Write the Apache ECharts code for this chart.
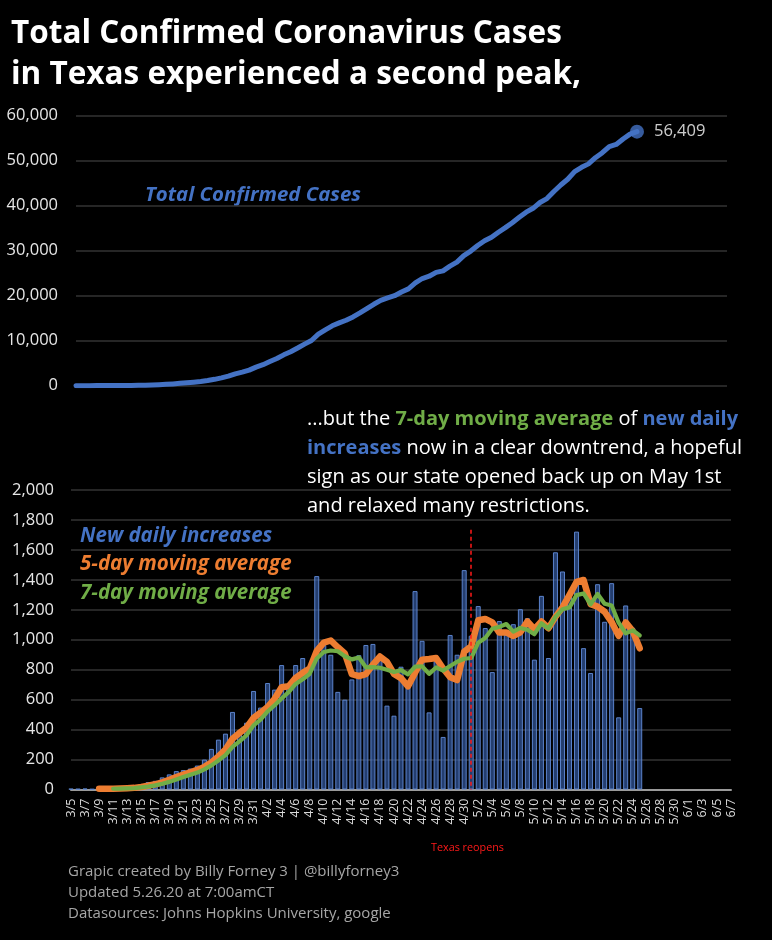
<!DOCTYPE html>
<html><head><meta charset="utf-8">
<script src="https://cdn.jsdelivr.net/npm/echarts@6/dist/echarts.min.js"></script>
<style>html,body{margin:0;padding:0;background:#000;}#c{width:772px;height:940px;}</style>
</head><body><div id="c"></div>
<script>
// Category labels (3/5 .. 6/7)
const dates = [
'3/5','3/6','3/7','3/8','3/9','3/10','3/11','3/12','3/13','3/14','3/15','3/16','3/17','3/18','3/19','3/20','3/21','3/22','3/23','3/24','3/25','3/26','3/27','3/28','3/29','3/30','3/31',
'4/1','4/2','4/3','4/4','4/5','4/6','4/7','4/8','4/9','4/10','4/11','4/12','4/13','4/14','4/15','4/16','4/17','4/18','4/19','4/20','4/21','4/22','4/23','4/24','4/25','4/26','4/27','4/28','4/29','4/30',
'5/1','5/2','5/3','5/4','5/5','5/6','5/7','5/8','5/9','5/10','5/11','5/12','5/13','5/14','5/15','5/16','5/17','5/18','5/19','5/20','5/21','5/22','5/23','5/24','5/25','5/26','5/27','5/28','5/29','5/30','5/31',
'6/1','6/2','6/3','6/4','6/5','6/6','6/7'];

// New daily increases (3/5 .. 5/25)
const newCases = [5,4,6,3,5,5,8,10,14,18,35,50,58,81,101,123,130,140,160,200,271,333,373,518,395,446,658,
547,711,667,831,689,831,878,807,1425,965,900,652,600,735,897,965,972,870,560,493,820,700,1325,993,515,857,351,1032,900,1465,
1027,1225,1078,784,1125,1033,1104,1204,1144,867,1293,878,1584,1456,1289,1722,944,778,1371,1120,1378,482,1229,1080,544];

// 5-day moving average
const ma5 = [null,null,null,null,5,5,5,6,8,11,17,25,35,48,65,83,99,115,131,151,180,221,267,339,378,413,478,
513,551,606,683,689,746,779,807,926,981,995,950,908,770,757,770,834,888,853,772,743,689,780,866,871,878,808,750,731,921,
955,1130,1139,1116,1048,1049,1025,1050,1122,1070,1122,1077,1153,1216,1300,1386,1399,1238,1221,1187,1118,1026,1116,1058,943];

// 7-day moving average
const ma7 = [null,null,null,null,null,null,5,6,7,9,14,20,28,38,51,67,83,98,113,134,161,194,230,285,321,362,428,
467,521,563,608,650,705,736,773,875,918,928,923,890,869,882,816,817,813,800,785,797,769,820,823,772,815,794,825,853,873,
878,980,1011,1073,1086,1105,1054,1079,1067,1037,1110,1075,1153,1204,1216,1298,1309,1236,1306,1240,1229,1114,1043,1063,1029];

// Total confirmed cases
const totalCases = [5,9,15,18,23,28,36,46,60,77,112,162,219,300,400,522,651,790,949,1147,1416,1747,2117,2631,3023,3465,4118,
4661,5367,6029,6854,7537,8362,9233,10034,11448,12406,13299,13946,14542,15271,16161,17119,18084,18947,19503,19992,20806,21500,22815,23801,24312,25162,25511,26535,27428,28882,
29901,31117,32187,32965,34081,35106,36202,37397,38532,39392,40676,41547,43119,44564,45843,47552,48489,49261,50621,51733,53100,53579,54798,55870,56409];

const reopenDate = '5/1';

const chart = echarts.init(document.getElementById('c'), null, {renderer:'canvas'});
const FONT = "'Open Sans', 'Noto Sans', sans-serif";
const fmt = v => Number(v).toLocaleString('en-US');
const lastIdx = totalCases.length - 1;

chart.setOption({
  backgroundColor: '#000',
  animation: false,
  grid: [
    {left: 76, right: 45, top: 115.5, height: 270.2},
    {left: 71, right: 41, top: 490, height: 299.5}
  ],
  xAxis: [
    {gridIndex: 0, type: 'category', data: dates, boundaryGap: false,
     axisLine: {show: false}, axisTick: {show: false}, axisLabel: {show: false}, splitLine: {show: false}},
    {gridIndex: 1, type: 'category', data: dates, boundaryGap: false,
     axisLine: {show: true, lineStyle: {color: '#9a9a9a', width: 2}},
     axisTick: {show: false},
     axisLabel: {interval: 1, rotate: 90, color: '#d9d9d9', fontFamily: FONT, fontSize: 12.5, margin: 9},
     splitLine: {show: false}}
  ],
  yAxis: [
    {gridIndex: 0, type: 'value', min: 0, max: 60000, interval: 10000,
     axisLine: {show: false}, axisTick: {show: false},
     axisLabel: {formatter: fmt, color: '#e6e6e6', fontFamily: FONT, fontSize: 16.5, margin: 18},
     splitLine: {lineStyle: {color: '#333333', width: 1.5}}},
    {gridIndex: 1, type: 'value', min: 0, max: 2000, interval: 200,
     axisLine: {show: false}, axisTick: {show: false},
     axisLabel: {formatter: fmt, color: '#e6e6e6', fontFamily: FONT, fontSize: 16.5, margin: 17},
     splitLine: {lineStyle: {color: '#333333', width: 1.5}}}
  ],
  series: [
    {type: 'line', xAxisIndex: 0, yAxisIndex: 0, symbol: 'none',
     lineStyle: {color: '#4472c4', width: 5, cap: 'round', join: 'round'},
     data: totalCases},
    {type: 'scatter', xAxisIndex: 0, yAxisIndex: 0, symbol: 'circle', symbolSize: 14,
     itemStyle: {color: '#4472c4'},
     label: {show: true, position: 'right', distance: 10, formatter: p => fmt(p.value[1]),
             color: '#ffffff', fontFamily: FONT, fontSize: 16.5},
     data: [[dates[lastIdx], totalCases[lastIdx]]], z: 5},
    {type: 'bar', xAxisIndex: 1, yAxisIndex: 1, barWidth: 5,
     itemStyle: {color: 'rgba(56,96,170,0.65)', borderColor: 'rgba(95,135,210,0.95)', borderWidth: 1},
     data: newCases,
     markLine: {symbol: 'none', silent: true, label: {show: false},
       lineStyle: {color: '#ff1a1a', type: [4, 3], width: 1.5},
       data: [[{xAxis: reopenDate, yAxis: 1735}, {xAxis: reopenDate, yAxis: 0}]]}},
    {type: 'line', xAxisIndex: 1, yAxisIndex: 1, symbol: 'none', connectNulls: false,
     lineStyle: {color: '#ed7d31', width: 6.5, cap: 'round', join: 'round'}, data: ma5, z: 3},
    {type: 'line', xAxisIndex: 1, yAxisIndex: 1, symbol: 'none',
     lineStyle: {color: '#70ad47', width: 4.2, cap: 'round', join: 'round'}, data: ma7, z: 4}
  ],
  graphic: [
    {type: 'text', left: 11, top: 18, style: {text: 'Total Confirmed Coronavirus Cases', fill: '#fff',
      font: "bold 31.5px " + FONT}},
    {type: 'text', left: 11, top: 59, style: {text: 'in Texas experienced a second peak,', fill: '#fff',
      font: "bold 31.5px " + FONT}},
    {type: 'text', left: 145, top: 185, style: {text: 'Total Confirmed Cases', fill: '#4472c4',
      font: "italic bold 20.4px " + FONT}},
    {type: 'text', left: 307, top: 404.5, style: {
      text: '...but the {g|7-day moving average} of {b|new daily}\n{b|increases} now in a clear downtrend, a hopeful\nsign as our state opened back up on May 1st\nand relaxed many restrictions.',
      fill: '#fff', font: "20px " + FONT, lineHeight: 29,
      rich: {
        g: {fill: '#70ad47', font: "bold 20px " + FONT, lineHeight: 29},
        b: {fill: '#4472c4', font: "bold 20px " + FONT, lineHeight: 29}
      }}},
    {type: 'text', left: 80, top: 526, style: {text: 'New daily increases', fill: '#4472c4', font: "italic bold 20.5px " + FONT}},
    {type: 'text', left: 80, top: 554, style: {text: '5-day moving average', fill: '#ed7d31', font: "italic bold 20.5px " + FONT}},
    {type: 'text', left: 80, top: 583, style: {text: '7-day moving average', fill: '#70ad47', font: "italic bold 20.5px " + FONT}},
    {type: 'text', left: 431, top: 842, style: {text: 'Texas reopens', fill: '#ff1a1a', font: "10.8px " + FONT}},
    {type: 'text', left: 68, top: 864, style: {text: 'Grapic created by Billy Forney 3 | @billyforney3', fill: '#a6a6a6', font: "15px " + FONT}},
    {type: 'text', left: 68, top: 885, style: {text: 'Updated 5.26.20 at 7:00amCT', fill: '#a6a6a6', font: "15px " + FONT}},
    {type: 'text', left: 68, top: 906, style: {text: 'Datasources: Johns Hopkins University, google', fill: '#a6a6a6', font: "15px " + FONT}}
  ]
});
</script>
</body></html>
